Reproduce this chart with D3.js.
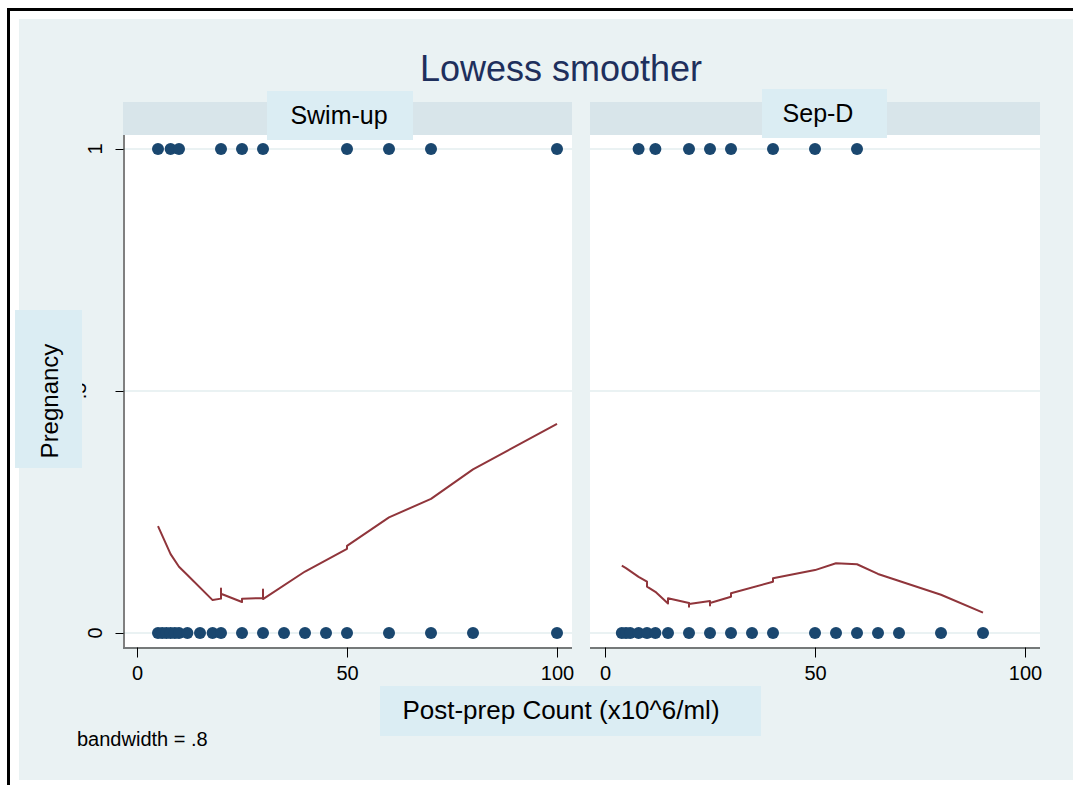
<!DOCTYPE html>
<html>
<head>
<meta charset="utf-8">
<script src="https://cdn.jsdelivr.net/npm/d3@7"></script>
<style>
  body { margin: 0; background: #ffffff; }
  text { font-family: "Liberation Sans", Arial, sans-serif; }
</style>
</head>
<body>
<svg id="chart" width="1073" height="785"></svg>
<script>
// panel labels and ticks
var panels = ["Swim-up", "Sep-D"];
var xTicks = [0, 50, 100];
var yTicks = [0, 0.5, 1];
var yTickLabels = ["0", ".5", "1"];

// observed points (post-prep count) for pregnancy = 1 and = 0
var swimOne = [5, 8, 10, 20, 25, 30, 50, 60, 70, 100];
var swimZero = [5, 6, 7, 8, 9, 10, 12, 15, 18, 20, 25, 30, 35, 40, 45, 50, 60, 70, 80, 100];
var sepOne = [8, 12, 20, 25, 30, 40, 50, 60];
var sepZero = [4, 5, 6, 8, 10, 12, 15, 20, 25, 30, 35, 40, 50, 55, 60, 65, 70, 80, 90];

// lowess smooth
var swimLowessX = [5, 8, 10, 12, 18, 20, 20, 20, 25, 25, 30, 30, 30, 40, 50, 50, 60, 70, 80, 100];
var swimLowessY = [0.221, 0.163, 0.137, 0.12, 0.068, 0.071, 0.092, 0.081, 0.064, 0.071, 0.072, 0.090, 0.070, 0.127, 0.174, 0.180, 0.239, 0.277, 0.338, 0.432];
var sepLowessX = [4, 5, 8, 10, 10, 12, 15, 15, 20, 20, 20, 25, 25, 25, 30, 30, 40, 40, 50, 55, 60, 65, 80, 90];
var sepLowessY = [0.139, 0.134, 0.116, 0.106, 0.096, 0.085, 0.061, 0.072, 0.062, 0.054, 0.060, 0.066, 0.057, 0.062, 0.075, 0.082, 0.106, 0.113, 0.130, 0.144, 0.142, 0.122, 0.079, 0.042];

var navy = "#1a476f";
var maroon = "#90353b";
var bgColor = "#eaf2f3";
var boxColor = "#dbedf3";
var stripColor = "#d8e5ea";

var svg = d3.select("#chart");

// outer frame
svg.append("rect").attr("x", 19).attr("y", 19).attr("width", 1060).attr("height", 761).attr("fill", bgColor);
svg.append("line").attr("x1", 8.5).attr("x2", 1073).attr("y1", 9.5).attr("y2", 9.5)
    .attr("stroke", "#000").attr("stroke-width", 3);
svg.append("line").attr("x1", 8.5).attr("x2", 8.5).attr("y1", 8).attr("y2", 785)
    .attr("stroke", "#000").attr("stroke-width", 3);

var y = d3.scaleLinear().domain([0, 1]).range([633, 149]);

var panelDefs = [
    { name: panels[0], left: 123, right: 572, x0: 137, x1: 557, stripBox: [267, 413, 91, 140], labelX: 339,
      one: swimOne, zero: swimZero, lx: swimLowessX, ly: swimLowessY },
    { name: panels[1], left: 590, right: 1040, x0: 605, x1: 1025, stripBox: [762, 887, 89, 138], labelX: 818,
      one: sepOne, zero: sepZero, lx: sepLowessX, ly: sepLowessY }
];

panelDefs.forEach(function(p, i) {
    var x = d3.scaleLinear().domain([0, 100]).range([p.x0, p.x1]);
    var g = svg.append("g").attr("class", "panel" + i);

    // plot region
    g.append("rect").attr("x", p.left).attr("y", 135)
        .attr("width", p.right - p.left).attr("height", 647 - 135).attr("fill", "#fff");

    // gridlines
    g.selectAll("line.grid")
        .data(yTicks)
        .enter()
        .append("line")
        .attr("class", "grid")
        .attr("x1", p.left)
        .attr("x2", p.right)
        .attr("y1", function(d) { return y(d); })
        .attr("y2", function(d) { return y(d); })
        .attr("stroke", bgColor)
        .attr("stroke-width", 2);

    // strip
    g.append("rect").attr("x", p.left).attr("y", 102)
        .attr("width", p.right - p.left).attr("height", 33).attr("fill", stripColor);
    g.append("rect").attr("x", p.stripBox[0]).attr("y", p.stripBox[2])
        .attr("width", p.stripBox[1] - p.stripBox[0]).attr("height", p.stripBox[3] - p.stripBox[2])
        .attr("fill", boxColor);
    g.append("text")
        .attr("x", p.labelX)
        .attr("y", p.stripBox[2] + 33)
        .attr("text-anchor", "middle")
        .attr("font-size", 25)
        .attr("fill", "#000")
        .text(p.name);

    // x axis
    var xAxis = d3.axisBottom(x).tickValues(xTicks).tickSize(10).tickPadding(8)
        .tickFormat(d3.format("d"));
    var ax = g.append("g").attr("transform", "translate(0,647.5)").call(xAxis);
    ax.select(".domain").attr("d", "M" + p.left + ",0.5H" + p.right).attr("stroke", "#000");
    ax.selectAll("text").attr("font-size", 20).attr("fill", "#000")
        .attr("font-family", "'Liberation Sans', Arial, sans-serif");

    // lowess line
    var pts = p.lx.map(function(v, k) { return [v, p.ly[k]]; });
    var line = d3.line()
        .x(function(d) { return x(d[0]); })
        .y(function(d) { return y(d[1]); });
    g.append("path")
        .datum(pts)
        .attr("d", line)
        .attr("fill", "none")
        .attr("stroke", maroon)
        .attr("stroke-width", 2)
        .attr("stroke-linejoin", "round");

    // points
    var obs = p.zero.map(function(v) { return { x: v, y: 0 }; })
        .concat(p.one.map(function(v) { return { x: v, y: 1 }; }));
    g.selectAll("circle")
        .data(obs)
        .enter()
        .append("circle")
        .attr("cx", function(d) { return x(d.x); })
        .attr("cy", function(d) { return y(d.y); })
        .attr("r", 6)
        .attr("fill", navy);
});

// y axis on the left panel only
var yAxis = d3.axisLeft(y).tickValues(yTicks).tickSize(8).tickFormat("");
var ay = svg.append("g").attr("transform", "translate(123.5,0)").call(yAxis);
ay.select(".domain").attr("d", "M0.5,135V647").attr("stroke", "#000");

svg.selectAll("text.ytick")
    .data(yTicks)
    .enter()
    .append("text")
    .attr("class", "ytick")
    .attr("transform", function(d, i) {
        var bx = i === 1 ? 86 : 102;
        return "translate(" + bx + "," + y(d) + ") rotate(-90)";
    })
    .attr("text-anchor", "middle")
    .attr("font-size", 20)
    .text(function(d, i) { return yTickLabels[i]; });

// y title box covers the middle tick label
svg.append("rect").attr("x", 15).attr("y", 310).attr("width", 67).attr("height", 158).attr("fill", boxColor);
svg.append("text")
    .attr("transform", "translate(58,401) rotate(-90)")
    .attr("text-anchor", "middle")
    .attr("font-size", 24)
    .text("Pregnancy");

// x title
svg.append("rect").attr("x", 380).attr("y", 686).attr("width", 381).attr("height", 50).attr("fill", boxColor);
svg.append("text")
    .attr("x", 561)
    .attr("y", 719)
    .attr("text-anchor", "middle")
    .attr("font-size", 26)
    .text("Post-prep Count (x10^6/ml)");

// title and note
svg.append("text")
    .attr("x", 561)
    .attr("y", 81)
    .attr("text-anchor", "middle")
    .attr("font-size", 36)
    .attr("fill", "#1e2f5c")
    .text("Lowess smoother");
svg.append("text")
    .attr("x", 77)
    .attr("y", 746)
    .attr("font-size", 20)
    .text("bandwidth = .8");
</script>
</body>
</html>
